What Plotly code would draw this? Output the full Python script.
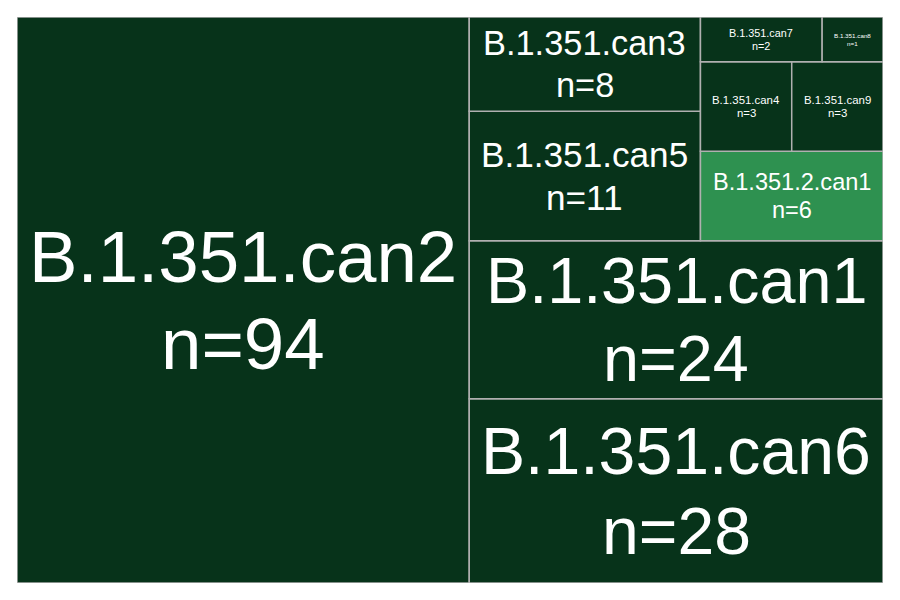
import plotly.graph_objects as go

# lineage counts (sorted, largest first)
lineages = [
    'B.1.351.can2', 'B.1.351.can6', 'B.1.351.can1', 'B.1.351.can5',
    'B.1.351.can3', 'B.1.351.2.can1', 'B.1.351.can4', 'B.1.351.can9',
    'B.1.351.can7', 'B.1.351.can8',
]
counts = [94, 28, 24, 11, 8, 6, 3, 3, 2, 1]
highlight = ['B.1.351.2.can1']

DARK = '#07331a'
LIGHT = '#2e9150'
EDGE = '#b0b0b0'

W, H = 884, 584
MARGIN = 9
NORM = 100.0


# --- squarified layout on a 100 x 100 square (Bruls et al.) ---
def layout_row(sizes, x, y, dx, dy):
    width = sum(sizes) / dy
    rects = []
    for s in sizes:
        rects.append((x, y, width, s / width))
        y += s / width
    return rects


def layout_col(sizes, x, y, dx, dy):
    height = sum(sizes) / dx
    rects = []
    for s in sizes:
        rects.append((x, y, s / height, height))
        x += s / height
    return rects


def layout(sizes, x, y, dx, dy):
    return layout_row(sizes, x, y, dx, dy) if dx >= dy else layout_col(sizes, x, y, dx, dy)


def leftover(sizes, x, y, dx, dy):
    if dx >= dy:
        width = sum(sizes) / dy
        return x + width, y, dx - width, dy
    height = sum(sizes) / dx
    return x, y + height, dx, dy - height


def worst_ratio(sizes, x, y, dx, dy):
    return max(max(w / h, h / w) for _, _, w, h in layout(sizes, x, y, dx, dy))


def squarify(sizes, x, y, dx, dy):
    if not sizes:
        return []
    if len(sizes) == 1:
        return layout(sizes, x, y, dx, dy)
    i = 1
    while i < len(sizes) and worst_ratio(sizes[:i], x, y, dx, dy) >= worst_ratio(sizes[:i + 1], x, y, dx, dy):
        i += 1
    cur, rest = sizes[:i], sizes[i:]
    return layout(cur, x, y, dx, dy) + squarify(rest, *leftover(cur, x, y, dx, dy))


total = float(sum(counts))
areas = [c * NORM * NORM / total for c in counts]
rects = squarify(areas, 0, 0, NORM, NORM)

# Arial / Liberation Sans advance widths (em)
CHAR_W = {'B': 0.667, '.': 0.278, 'c': 0.5, 'a': 0.556, 'n': 0.556, '=': 0.584}


def text_em(s):
    return sum(CHAR_W.get(ch, 0.556) for ch in s)


px_x = (W - 2 * MARGIN) / NORM
px_y = (H - 2 * MARGIN) / NORM

fig = go.Figure()
for name, n, (x, y, dx, dy) in zip(lineages, counts, rects):
    fig.add_shape(
        type='rect', xref='x', yref='y',
        x0=x, y0=y, x1=x + dx, y1=y + dy,
        fillcolor=LIGHT if name in highlight else DARK,
        line=dict(color=EDGE, width=1.5),
        layer='below',
    )
    # fit the label into the tile
    bw, bh = dx * px_x, dy * px_y
    em = max(text_em(name), text_em(f'n={n}'))
    fs = min((bw - 24) / em, (bh - 22) / 2.1)
    cx, cy = x + dx / 2, y + dy / 2
    for txt, shift in ((name, 0.6), (f'n={n}', -0.6)):
        fig.add_annotation(
            x=cx, y=cy, xref='x', yref='y',
            text=txt, showarrow=False,
            yshift=shift * fs,
            font=dict(family='Liberation Sans, Arial, sans-serif', size=fs, color='white'),
        )

fig.update_xaxes(range=[0, NORM], visible=False, fixedrange=True)
fig.update_yaxes(range=[0, NORM], visible=False, fixedrange=True)

# page has 8px body margin, so the figure fills what is left of the window
fig.update_layout(
    width=W,
    height=H,
    margin=dict(l=MARGIN, r=MARGIN, t=MARGIN, b=MARGIN),
    paper_bgcolor='white',
    plot_bgcolor='white',
    showlegend=False,
)

fig.write_html('out.html')
